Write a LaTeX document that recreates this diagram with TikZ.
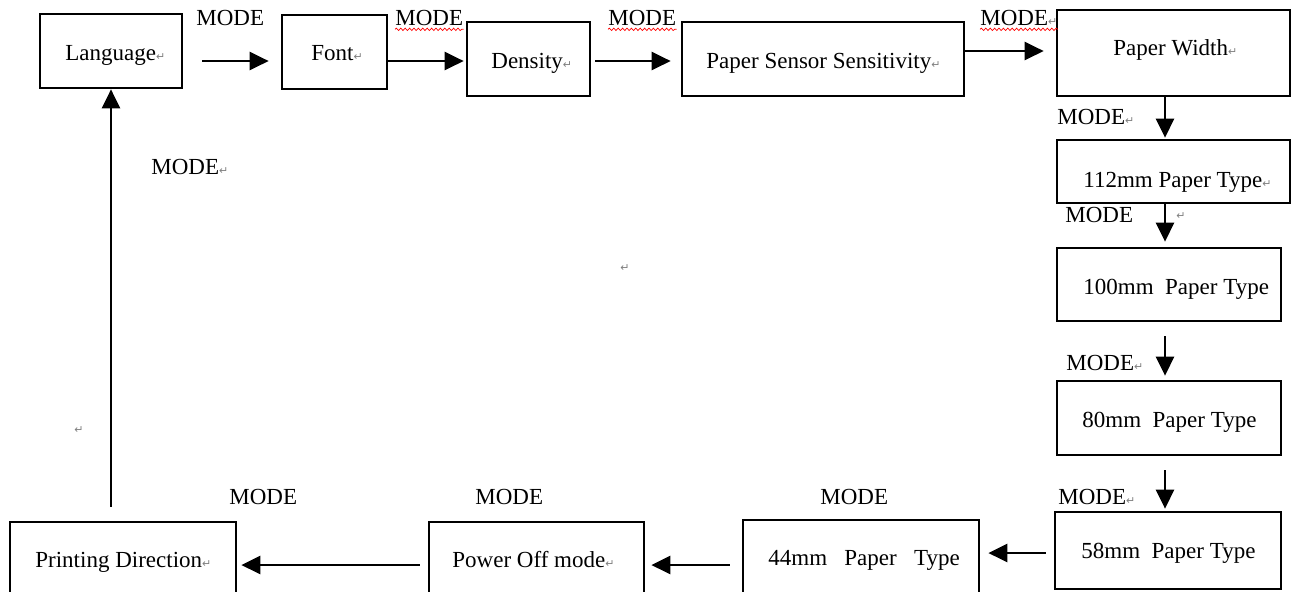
\documentclass[tikz,border=0pt]{standalone}
\usepackage{fontspec}
\setmainfont{Liberation Serif}
\newfontfamily\symfont{DejaVu Sans}
\usetikzlibrary{arrows.meta,decorations.pathmorphing}
\newcommand\retmark{{\symfont\color{gray}\fontsize{5.5}{6}\selectfont ↵}}
\begin{document}
\begin{tikzpicture}[x=0.5pt,y=-0.5pt,
  font=\fontsize{11.5}{13}\selectfont,
  box/.style={draw,line width=1.35pt,inner sep=0pt},
  txt/.style={inner sep=0pt,anchor=base west},
  arr/.style={line width=1.3pt,-{Triangle[length=9.5pt,width=9pt]}},
  lbl/.style={inner sep=0pt,anchor=west},
  wavy/.style={draw=red,line width=0.35pt,decorate,decoration={snake,amplitude=0.6pt,segment length=2.2pt}}]
\useasboundingbox (0,0) rectangle (1299,591);
\clip (0,0) rectangle (1299,591);
% boxes
\node[box,minimum width=71pt,minimum height=37pt] (lang) at (111,51) {};
\node[box,minimum width=52.5pt,minimum height=37pt] (font) at (334.5,52) {};
\node[box,minimum width=61.5pt,minimum height=37pt] (dens) at (528.5,59) {};
\node[box,minimum width=141pt,minimum height=37pt] (pss) at (823,59) {};
\node[box,minimum width=116.5pt,minimum height=43pt] (pw) at (1173.5,53) {};
\node[box,minimum width=116.5pt,minimum height=31.5pt] (p112) at (1173.5,171.5) {};
\node[box,minimum width=112pt,minimum height=36.5pt] (p100) at (1169,284.5) {};
\node[box,minimum width=112pt,minimum height=37pt] (p80) at (1169,418) {};
\node[box,minimum width=113pt,minimum height=38.5pt] (p58) at (1168,550.5) {};
\node[box,minimum width=118pt,minimum height=38pt] (p44) at (861,558) {};
\node[box,minimum width=107.5pt,minimum height=38pt] (po) at (536.5,560) {};
\node[box,minimum width=113pt,minimum height=38pt] (pd) at (123,560) {};
% box texts
\node[txt] (tlang) at (65,60) {Language\retmark};
\node[txt] (tfont) at (311,60) {Font\retmark};
\node[txt] (tdens) at (491,68) {Density\retmark};
\node[txt] (tpss) at (706,68) {Paper Sensor Sensitivity\retmark};
\node[txt] (tpw) at (1113,55) {Paper Width\retmark};
\node[txt] (t112) at (1083,187) {112mm Paper Type\retmark};
\node[txt] (t100) at (1083,294) {100mm\ \ Paper Type};
\node[txt] (t80) at (1082,427) {80mm\ \ Paper Type};
\node[txt] (t58) at (1081,558) {58mm\ \ Paper Type};
\node[txt] (t44) at (768,565) {44mm\ \ \ Paper\ \ \ Type};
\node[txt] (tpo) at (452,567) {Power Off mode\retmark};
\node[txt] (tpd) at (35,567) {Printing Direction\retmark};
% connectors
\draw[arr,shorten <=9.5pt,shorten >=6pt] ([yshift=-5pt]lang.east) -- ([yshift=-5pt]lang.east -| font.west);
\draw[arr,shorten >=1pt] ([yshift=-4.5pt]font.east) -- ([yshift=-4.5pt]font.east -| dens.west);
\draw[arr,shorten <=2pt,shorten >=5pt] ([yshift=-1pt]dens.east) -- ([yshift=-1pt]dens.east -| pss.west);
\draw[arr,shorten >=6pt] ([yshift=4pt]pss.east) -- ([yshift=4pt]pss.east -| pw.west);
\draw[arr,shorten >=0.5pt] ([xshift=-4.25pt]pw.south) -- ([xshift=-4.25pt]pw.south |- p112.north);
\draw[arr,shorten >=2.5pt] ([xshift=-4.25pt]p112.south) -- ([xshift=-4.25pt]p112.south |- p100.north);
\draw[arr,shorten <=7pt,shorten >=2pt] ([xshift=-2pt]p100.south) -- ([xshift=-2pt]p100.south |- p80.north);
\draw[arr,shorten <=7pt,shorten >=1pt] ([xshift=-2pt]p80.south) -- ([xshift=-2pt]p80.south |- p58.north);
\draw[arr,shorten <=4pt,shorten >=4pt] ([yshift=-1.25pt]p58.west) -- ([yshift=-1.25pt]p58.west -| p44.east);
\draw[arr,shorten <=6pt,shorten >=3pt] ([yshift=-3.5pt]p44.west) -- ([yshift=-3.5pt]p44.west -| po.east);
\draw[arr,shorten <=4pt,shorten >=2pt] ([yshift=-2.5pt]po.west) -- ([yshift=-2.5pt]po.west -| pd.east);
\draw[arr,shorten <=7pt] ([xshift=-6pt]pd.north) -- ([xshift=-6pt]pd.north |- lang.south);
% labels
\node[lbl] (m1) at (196,18) {MODE};
\node[lbl] (m2) at (395,18) {MODE};
\node[lbl] (m3) at (608,18) {MODE};
\node[lbl] (m4) at (980,18) {MODE\retmark};
\node[lbl] (m5) at (1057,117) {MODE\retmark};
\node[lbl] (m6) at (1065,215) {MODE};
\node[inner sep=0pt] (r6) at (1181,216) {\retmark};
\node[lbl] (m7) at (1066,363) {MODE\retmark};
\node[lbl] (m8) at (1058,497) {MODE\retmark};
\node[lbl] (m9) at (229,497) {MODE};
\node[lbl] (m10) at (475,497) {MODE};
\node[lbl] (m11) at (820,497) {MODE};
\node[lbl] (m12) at (151,167) {MODE\retmark};
\node[inner sep=0pt] (r1) at (625,268) {\retmark};
\node[inner sep=0pt] (r2) at (79,430) {\retmark};
% spell-check underlines
\path[wavy] ([yshift=-1.6pt]m2.south west) -- ([yshift=-1.6pt]m2.south east);
\path[wavy] ([yshift=-1.6pt]m3.south west) -- ([yshift=-1.6pt]m3.south east);
\path[wavy] ([yshift=-1.6pt]m4.south west) -- ([yshift=-1.6pt]m4.south east);
\end{tikzpicture}
\end{document}
